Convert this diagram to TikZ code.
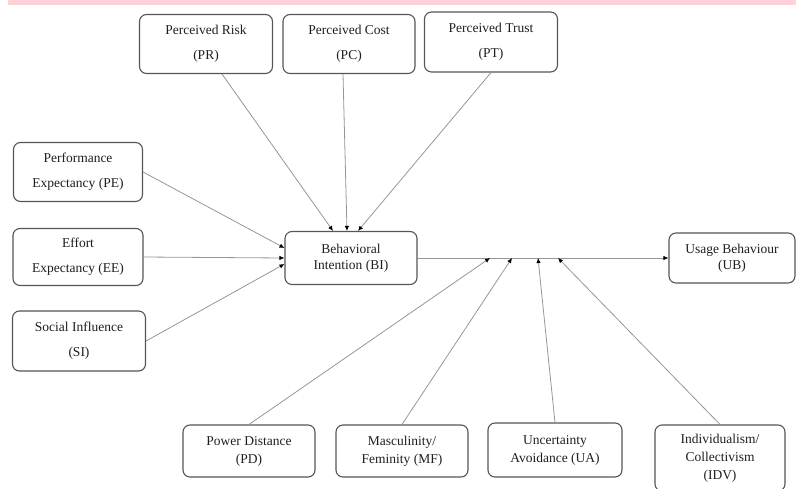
\documentclass[tikz,border=0pt]{standalone}
\usepackage{fontspec}
\setmainfont{Liberation Serif}
\usetikzlibrary{arrows.meta}
\definecolor{bandpink}{RGB}{255,210,216}
\definecolor{boxline}{RGB}{85,85,85}
\definecolor{linkgray}{RGB}{150,150,150}
\definecolor{textgray}{RGB}{30,30,30}

\begin{document}
\begin{tikzpicture}
[
    x=1pt, y=-1pt,
    construct/.style={draw=boxline, line width=1.1pt, rounded corners=7pt,
        align=center, inner sep=0pt, text=textgray,
        font=\fontsize{13.5}{16}\selectfont},
    link/.style={draw=linkgray, line width=0.8pt,
        -{Latex[length=5pt, width=4.5pt, color=black]}},
]
\useasboundingbox (0,0) rectangle (796,488);
\fill[bandpink] (8,0) rectangle (796,5);

% antecedents
\node[construct, minimum width=133pt, minimum height=59pt] (pr) at (206,44) {Perceived Risk\\[9pt](PR)};
\node[construct, minimum width=132pt, minimum height=59pt] (pc) at (349,44) {Perceived Cost\\[9pt](PC)};
\node[construct, minimum width=133pt, minimum height=60pt] (pt) at (491,42) {Perceived Trust\\[9pt](PT)};
\node[construct, minimum width=129pt, minimum height=59pt] (pe) at (78,172) {Performance\\[9pt]Expectancy (PE)};
\node[construct, minimum width=130pt, minimum height=57pt] (ee) at (78,257) {Effort\\[9pt]Expectancy (EE)};
\node[construct, minimum width=133pt, minimum height=60pt] (si) at (79,341) {Social Influence\\[9pt](SI)};

% intention and behaviour
\node[construct, minimum width=132pt, minimum height=53pt] (bi) at (351,258) {Behavioral\\Intention (BI)};
\node[construct, minimum width=126pt, minimum height=50pt] (ub) at (732,258) {Usage Behaviour\\(UB)};

% moderators
\node[construct, minimum width=132pt, minimum height=52pt] (pd) at (249,451) {Power Distance\\[2pt](PD)};
\node[construct, minimum width=132pt, minimum height=52pt] (mf) at (402,451) {Masculinity/\\[2pt]Feminity (MF)};
\node[construct, minimum width=134pt, minimum height=54pt] (ua) at (555,450) {Uncertainty\\[2pt]Avoidance (UA)};
\node[construct, minimum width=130pt, minimum height=66pt] (idv) at (720,458) {Individualism/\\[2pt]Collectivism\\[2pt](IDV)};

\coordinate (pdin) at (490,258);
\coordinate (mfin) at (512,258);
\coordinate (uain) at (538,258);
\coordinate (idvin) at (558,258);

\draw[link] ([xshift=16pt]pr.south) -- ([xshift=-18pt]bi.north);
\draw[link] ([xshift=-6pt]pc.south) -- ([xshift=-4pt]bi.north);
\draw[link] (pt.south) -- ([xshift=7pt]bi.north);
\draw[link] (pe.east) -- ([yshift=10pt]bi.west);
\draw[link] (ee.east) -- (bi.west);
\draw[link] (si.east) -- ([yshift=-6pt]bi.west);

\draw[link] (bi.east) -- (ub.west);

\draw[link] (pd.north) -- (pdin);
\draw[link] (mf.north) -- (mfin);
\draw[link] (ua.north) -- (uain);
\draw[link] (idv.north) -- (idvin);
\end{tikzpicture}
\end{document}
